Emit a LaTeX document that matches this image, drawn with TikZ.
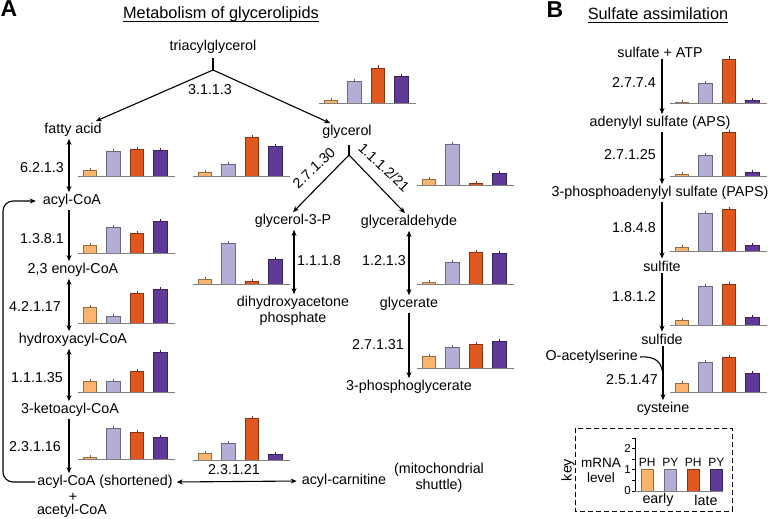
\documentclass[tikz,border=0pt]{standalone}
\usepackage{fontspec}
\setmainfont{Liberation Sans}
\usepackage{tikz}
\usetikzlibrary{arrows.meta, calc, positioning}
\definecolor{EarlyPH}{RGB}{250,180,110}
\definecolor{EarlyPY}{RGB}{178,174,214}
\definecolor{LatePH}{RGB}{224,88,32}
\definecolor{LatePY}{RGB}{94,58,150}
\definecolor{AxisGray}{RGB}{128,128,128}

\begin{document}
\begin{tikzpicture}[x=1pt, y=-1pt,
  met/.style={font=\fontsize{14.3}{16}\selectfont, inner sep=2pt, align=center},
  ec/.style={font=\fontsize{14.3}{16}\selectfont, inner sep=1pt},
  head/.style={font=\fontsize{16.3}{18}\selectfont, inner sep=0pt},
  panel/.style={font=\fontsize{23}{24}\selectfont\bfseries, inner sep=0pt},
  rxn/.style={line width=1.1pt, -{Stealth[length=6pt, width=5pt]}},
  rev/.style={line width=1.1pt, {Stealth[length=6pt, width=5pt]}-{Stealth[length=6pt, width=5pt]}},
  bar/.style={line width=0.4pt},
  base/.style={AxisGray, line width=0.8pt}]
\useasboundingbox (0,0) rectangle (768,519);

% ---- panel titles ----
\node[panel] (lblA) at (9,9) {A};
\node[panel] (lblB) at (555,10) {B};
\node[head] (titleA) at (221,14) {Metabolism of glycerolipids};
\node[head] (titleB) at (658,14) {Sulfate assimilation};
\draw[line width=0.8pt] ([yshift=-3pt]titleA.base west) -- ([yshift=-3pt]titleA.base east);
\draw[line width=0.8pt] ([yshift=-3pt]titleB.base west) -- ([yshift=-3pt]titleB.base east);

% ---- glycerolipids: metabolites ----
\node[met] (tag) at (213,47) {triacylglycerol};
\node[met] (fa) at (73,130) {fatty acid};
\node[met] (gly) at (347,132) {glycerol};
\node[met] (acoa) at (72,201) {acyl-CoA};
\node[met] (enoyl) at (73,270) {2,3 enoyl-CoA};
\node[met] (hyd) at (73,340) {hydroxyacyl-CoA};
\node[met] (keto) at (70,410) {3-ketoacyl-CoA};
\node[met] (acs) at (105,482) {acyl-CoA (shortened)};
\node[met] (plus) at (73,497) {+};
\node[met] (acet) at (72,511) {acetyl-CoA};
\node[met] (acar) at (344,481) {acyl-carnitine};
\node[met] (mito) at (439,478) {(mitochondrial\\shuttle)};
\node[met] (g3p) at (293,221) {glycerol-3-P};
\node[met] (dhap) at (293,311) {dihydroxyacetone\\phosphate};
\node[met] (gald) at (409,222) {glyceraldehyde};
\node[met] (glyc) at (409,304) {glycerate};
\node[met] (pg) at (409,387) {3-phosphoglycerate};

\coordinate (tagfork) at (213,70);
\coordinate (gfork) at (349,155);
\coordinate (colL) at (69,0);
\coordinate (colM) at (294,0);
\coordinate (colR) at (409,0);

% ---- glycerolipids: reactions ----
\draw[line width=1.1pt, shorten <=2pt] (tag.south) -- (tagfork);
\draw[rxn] (tagfork) -- ([xshift=-8pt]fa.north east);
\draw[rxn] (tagfork) -- ([xshift=10pt]gly.north west);
\draw[line width=1.1pt, shorten <=4pt] (gly.south -| gfork) -- (gfork);
\draw[rxn] (gfork) -- (g3p.north);
\draw[rxn] (gfork) -- ([xshift=-4pt]gald.north);

\draw[rev] (fa.south -| colL) -- (acoa.north -| colL);
\draw[rxn] (acoa.south -| colL) -- (enoyl.north -| colL);
\draw[rev] (enoyl.south -| colL) -- (hyd.north -| colL);
\draw[rev] (hyd.south -| colL) -- (keto.north -| colL);
\draw[rxn] (keto.south -| colL) -- (acs.north -| colL);
\draw[rxn, rounded corners=10pt, shorten >=5pt] (acs.west) -| (3,340) |- (acoa.west);
\draw[rev, shorten <=2pt, shorten >=3pt] (acs.east) -- (acar.west);

\draw[rev] (g3p.south -| colM) -- (dhap.north -| colM);
\draw[rev] (gald.south -| colR) -- (glyc.north -| colR);
\draw[rxn] (glyc.south -| colR) -- (pg.north -| colR);

% ---- glycerolipids: enzymes ----
\node[ec] (ec3113) at (210,90) {3.1.1.3};
\node[ec, rotate=43, inner sep=0pt] (ec27130) at (314,168) {2.7.1.30};
\node[ec, rotate=-43, inner sep=0pt] (ec11122) at (384,167) {1.1.1.2/21};
\node[ec] (ec6213) at (42,168) {6.2.1.3};
\node[ec] (ec1381) at (42,239) {1.3.8.1};
\node[ec] (ec42117) at (35,307) {4.2.1.17};
\node[ec] (ec11135) at (37,378) {1.1.1.35};
\node[ec] (ec23116) at (35,447) {2.3.1.16};
\node[ec] (ec23121) at (234,470) {2.3.1.21};
\node[ec] (ec1118) at (319,261) {1.1.1.8};
\node[ec] (ec1213) at (384,261) {1.2.1.3};
\node[ec] (ec27131) at (378,345) {2.7.1.31};

% ---- sulfate assimilation ----
\node[met] (sat) at (660,52) {sulfate + ATP};
\node[met] (aps) at (660,123) {adenylyl sulfate (APS)};
\node[met] (paps) at (660,193) {3-phosphoadenylyl sulfate (PAPS)};
\node[met] (sulfite) at (662,266) {sulfite};
\node[met] (sulfide) at (662,339) {sulfide};
\node[met, anchor=east] (oas) at (640,357) {O-acetylserine};
\node[met] (cys) at (663,409) {cysteine};
\coordinate (colB) at (662,0);
\coordinate (join) at (663,378);

\draw[rxn] (sat.south -| colB) -- (aps.north -| colB);
\draw[rxn] (aps.south -| colB) -- (paps.north -| colB);
\draw[rxn] (paps.south -| colB) -- (sulfite.north -| colB);
\draw[rxn] (sulfite.south -| colB) -- (sulfide.north -| colB);
\draw[rxn] (sulfide.south -| join) -- (cys.north -| join);
\draw[line width=1.1pt] (oas.east) .. controls (656,356) and (663,362) .. (join);

\node[ec] (ec2774) at (634,83) {2.7.7.4};
\node[ec] (ec27125) at (630,155) {2.7.1.25};
\node[ec] (ec1848) at (634,228) {1.8.4.8};
\node[ec] (ec1812) at (634,297) {1.8.1.2};
\node[ec] (ec25147) at (632,380) {2.5.1.47};

% ---- mRNA bar charts: x / baseline / early PH / early PY / late PH / late PY ----
\foreach \cx/\cy/\ha/\hb/\hc/\hd in {319/103/3/22/35/27, 78/176/6/25/27/26,
    193/176/4/12/39/30, 417/185/6/41/2/12, 78/253/8/26/20/32, 193/284/5/41/3/25,
    417/284/2/22/32/31, 78/323/16/7/30/34, 417/368/12/21/24/27, 78/392/11/11/21/40,
    78/459/2/31/27/22, 193/460/7/17/42/6, 670/103/1/20/44/3, 670/176/2/21/44/4,
    670/251/4/38/42/6, 670/325/5/39/41/8, 670/392/9/30/35/19}{
  \foreach \i/\h/\col in {0/\ha/EarlyPH, 1/\hb/EarlyPY, 2/\hc/LatePH, 3/\hd/LatePY}{
    \draw[bar, draw=\col!60!black, fill=\col] (\cx+5+23.5*\i,\cy) rectangle ++(13.5,-\h);
    \draw[bar, \col!50!black] (\cx+11.75+23.5*\i,\cy-\h) -- ++(0,-2.5);
  }
  \draw[base] (\cx,\cy) -- ++(97,0);
}

% ---- key ----
\draw[line width=1pt, dash pattern=on 5pt off 3pt] (575,428) rectangle (732,511);
\node[met, rotate=90] (keylbl) at (568,470) {key};
\node[font=\fontsize{13.5}{15}\selectfont, align=center, inner sep=0pt] (mrna) at (601,470) {mRNA\\level};
\foreach \i/\col/\t in {0/EarlyPH/PH, 1/EarlyPY/PY, 2/LatePH/PH, 3/LatePY/PY}{
  \draw[bar, draw=\col!60!black, fill=\col] (641+23*\i,491) rectangle ++(12.5,-22);
  \node[font=\fontsize{12}{13}\selectfont, inner sep=0pt] (key\i) at (647.25+23*\i,462) {\t};
}
\draw[base] (635,491) -- (723,491);
\draw[line width=0.8pt] (635,491) -- (635,438);
\foreach \t in {0,...,5}{
  \draw[line width=0.8pt] (635,491-10.6*\t) -- ++(-3,0);
}
\foreach \v in {0,1,2}{
  \node[font=\fontsize{11.5}{12}\selectfont, anchor=east, inner sep=0pt] (tick\v) at (631,491-21.2*\v) {\v};
}
\node[met] (early) at (658,500) {early};
\node[met] (late) at (706,500) {late};

\end{tikzpicture}
\end{document}
